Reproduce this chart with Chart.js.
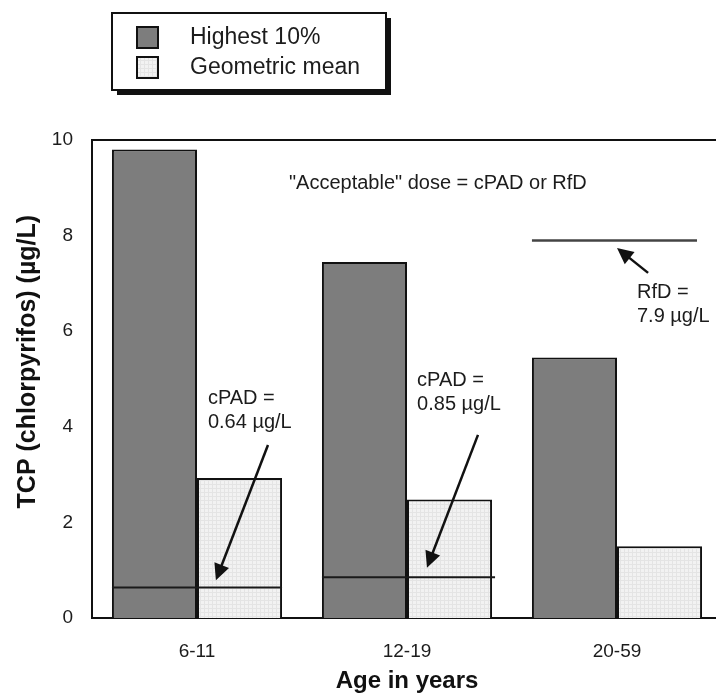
<!DOCTYPE html>
<html>
<head>
<meta charset="utf-8">
<script src="https://cdn.jsdelivr.net/npm/chart.js@4.4.1/dist/chart.umd.min.js"></script>
<style>
  html, body { margin: 0; padding: 0; background: #fff; overflow: hidden; }
  #wrap { width: 740px; height: 696px; }
</style>
</head>
<body>
<div id="wrap"><canvas id="chart" width="740" height="696"></canvas></div>
<script>
// Chart data
const ageGroups = ['6-11', '12-19', '20-59'];
const highest10 = [9.8, 7.45, 5.45];
const geoMean = [2.93, 2.48, 1.5];
const yTicks = [0, 2, 4, 6, 8, 10];

// Acceptable dose levels per age group (cPAD for children/teens, RfD for adults)
const cpadValues = [0.64, 0.85];
const rfdValue = 7.9;

// Annotation texts
const headerNote = '"Acceptable" dose = cPAD or RfD';
const doseLabels = [
  ['cPAD =', '0.64 µg/L'],
  ['cPAD =', '0.85 µg/L'],
  ['RfD =', '7.9 µg/L']
];

const FONT = '"Liberation Sans", Arial, sans-serif';
const TEXT = '#1c1c1c';

function makeGridPattern() {
  const c = document.createElement('canvas');
  c.width = 4;
  c.height = 4;
  const g = c.getContext('2d');
  g.fillStyle = '#f2f2f2';
  g.fillRect(0, 0, 4, 4);
  g.fillStyle = '#e4e4e4';
  g.fillRect(0, 0, 4, 1);
  g.fillRect(0, 0, 1, 4);
  return g.createPattern(c, 'repeat');
}

function drawArrow(ctx, x1, y1, x2, y2) {
  const angle = Math.atan2(y2 - y1, x2 - x1);
  const head = 18;
  const spread = 0.45;
  ctx.beginPath();
  ctx.moveTo(x1, y1);
  ctx.lineTo(x2 - Math.cos(angle) * head * 0.7, y2 - Math.sin(angle) * head * 0.7);
  ctx.stroke();
  ctx.beginPath();
  ctx.moveTo(x2, y2);
  ctx.lineTo(x2 - head * Math.cos(angle - spread), y2 - head * Math.sin(angle - spread));
  ctx.lineTo(x2 - head * Math.cos(angle + spread), y2 - head * Math.sin(angle + spread));
  ctx.closePath();
  ctx.fill();
}

const annotationPlugin = {
  id: 'doseAnnotations',
  afterDatasetsDraw(chart) {
    const { ctx, chartArea, scales } = chart;
    const x = scales.x;
    const y = scales.y;
    const hi = chart.getDatasetMeta(0).data;
    const gm = chart.getDatasetMeta(1).data;

    ctx.save();
    // top frame line
    ctx.strokeStyle = '#111';
    ctx.lineWidth = 2;
    ctx.beginPath();
    ctx.moveTo(chartArea.left - 1, chartArea.top);
    ctx.lineTo(chartArea.right, chartArea.top);
    ctx.stroke();

    // cPAD lines across both bars of a group
    ctx.strokeStyle = '#1a1a1a';
    ctx.lineWidth = 2;
    cpadValues.forEach((v, i) => {
      const py = y.getPixelForValue(v);
      ctx.beginPath();
      ctx.moveTo(hi[i].x - hi[i].width / 2, py);
      ctx.lineTo(gm[i].x + gm[i].width / 2 + (i === 1 ? 3 : 0), py);
      ctx.stroke();
    });

    // RfD line
    ctx.strokeStyle = '#444';
    ctx.lineWidth = 2.5;
    const ry = y.getPixelForValue(rfdValue);
    ctx.beginPath();
    ctx.moveTo(hi[2].x - hi[2].width / 2, ry);
    ctx.lineTo(x.getPixelForValue(2.381), ry);
    ctx.stroke();

    // arrows: [tail index, tail value, tip index, tip value]
    const arrows = [
      [0.338, 3.62, 0.09, 0.79],
      [1.338, 3.83, 1.095, 1.05],
      [2.148, 7.22, 2.0, 7.74]
    ];
    ctx.strokeStyle = '#111';
    ctx.fillStyle = '#111';
    ctx.lineWidth = 2.5;
    arrows.forEach(([ti, tv, hi2, hv]) => {
      drawArrow(ctx, x.getPixelForValue(ti), y.getPixelForValue(tv),
        x.getPixelForValue(hi2), y.getPixelForValue(hv));
    });

    // texts
    ctx.fillStyle = TEXT;
    ctx.font = `20px ${FONT}`;
    ctx.textBaseline = 'middle';
    ctx.textAlign = 'center';
    ctx.fillText(headerNote, x.getPixelForValue(1.147), y.getPixelForValue(9.1));

    ctx.textAlign = 'left';
    const labelPos = [
      [0.052, 4.6],
      [1.048, 4.97],
      [2.095, 6.82]
    ];
    doseLabels.forEach((lines, i) => {
      const [li, lv] = labelPos[i];
      const px = x.getPixelForValue(li);
      const py = y.getPixelForValue(lv);
      lines.forEach((t, k) => ctx.fillText(t, px, py + k * 24));
    });
    ctx.restore();
  },
  afterDraw(chart) {
    const { ctx } = chart;
    const bx = 112, by = 13, bw = 274, bh = 77;
    ctx.save();
    // shadow
    ctx.fillStyle = '#111';
    ctx.fillRect(bx + 5, by + 5, bw, bh);
    ctx.fillStyle = '#fff';
    ctx.fillRect(bx, by, bw, bh);
    ctx.strokeStyle = '#111';
    ctx.lineWidth = 2;
    ctx.strokeRect(bx, by, bw, bh);

    ctx.font = `23px ${FONT}`;
    ctx.textBaseline = 'middle';
    ctx.textAlign = 'left';
    chart.data.datasets.forEach((ds, i) => {
      const sy = 27 + i * 30;
      ctx.fillStyle = ds.backgroundColor;
      ctx.fillRect(137, sy, 21, 21);
      ctx.strokeStyle = '#111';
      ctx.lineWidth = 2;
      ctx.strokeRect(137, sy, 21, 21);
      ctx.fillStyle = TEXT;
      ctx.fillText(ds.label, 190, sy + 11);
    });
    ctx.restore();
  }
};

const gridFill = makeGridPattern();

new Chart(document.getElementById('chart'), {
  type: 'bar',
  data: {
    labels: ageGroups,
    datasets: [
      {
        label: 'Highest 10%',
        data: highest10,
        backgroundColor: '#7d7d7d',
        borderColor: '#111',
        borderWidth: 2,
        borderSkipped: 'bottom',
        categoryPercentage: 0.81,
        barPercentage: 1.0
      },
      {
        label: 'Geometric mean',
        data: geoMean,
        backgroundColor: gridFill,
        borderColor: '#111',
        borderWidth: 2,
        borderSkipped: 'bottom',
        categoryPercentage: 0.81,
        barPercentage: 1.0
      }
    ]
  },
  options: {
    responsive: false,
    animation: false,
    devicePixelRatio: 1,
    layout: { padding: { top: 140, right: 18, left: 0, bottom: 0 } },
    plugins: {
      legend: { display: false },
      tooltip: { enabled: false }
    },
    scales: {
      x: {
        grid: { display: false },
        border: { display: true, color: '#111', width: 2 },
        ticks: { color: TEXT, font: { family: FONT, size: 19 }, padding: 14 },
        title: {
          display: true,
          text: 'Age in years',
          color: '#111',
          font: { family: FONT, size: 24, weight: 'bold' },
          padding: { top: 0, bottom: 0 }
        },
        afterFit(scale) { scale.height = 78; }
      },
      y: {
        min: 0,
        max: 10,
        afterBuildTicks(scale) { scale.ticks = yTicks.map((v) => ({ value: v })); },
        grid: { display: false, drawTicks: false },
        border: { display: true, color: '#111', width: 2 },
        ticks: { color: TEXT, font: { family: FONT, size: 19 }, padding: 19 },
        title: {
          display: true,
          text: '     TCP (chlorpyrifos) (µg/L)',
          color: '#111',
          font: { family: FONT, size: 25, weight: 'bold' },
          padding: { top: 13, bottom: 0 }
        },
        afterFit(scale) { scale.width = 92; }
      }
    }
  },
  plugins: [annotationPlugin]
});
</script>
</body>
</html>
